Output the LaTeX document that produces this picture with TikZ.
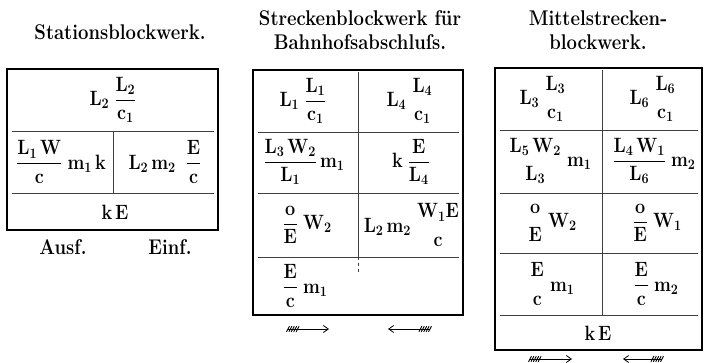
\RequirePackage{fix-cm}
\documentclass[tikz,border=0pt]{standalone}
\usepackage{amsmath}
\usepackage{tikz}
\usetikzlibrary{arrows.meta}

\newcommand{\nofr}[2]{\genfrac{}{}{0pt}{0}{#1}{#2}}

\tikzset{
	frame/.style = {line width = 1.8pt},
	rule/.style = {line width = 0.6pt, black!75},
	cell/.style = {inner sep = 0pt, yscale = 1.15, font = \fontsize{18}{21}\selectfont},
	heading/.style = {inner sep = 0pt, yscale = 1.15, align = center, font = \fontsize{18.5}{21}\selectfont\bfseries},
	shaft/.style = {line width = 0.8pt, -{Straight Barb[length = 5pt, width = 7pt]}},
	feather/.style = {line width = 0.9pt}
}

\begin{document}
\begin{tikzpicture}[x = 1pt, y = -1pt]
					\useasboundingbox (0,0) rectangle (707,363);

					\begin{scope}
						\node [heading] (stTitle) at (120,32) {Stationsblockwerk.};
						\draw [frame] (7,69) rectangle (218,230);
						\draw [rule] (12,131) -- (214,131);
						\draw [rule] (12,193) -- (214,193);
						\draw [rule] (113,131) -- (113,193);
						\node [cell] (stA) at (113,100) {$\mathbf{L_2\;\dfrac{L_2}{c_1}}$};
						\node [cell] (stB) at (61,162) {$\mathbf{\dfrac{L_1\,W}{c}\;m_1\,k}$};
						\node [cell] (stC) at (165,162) {$\mathbf{L_2\,m_2\;\;\dfrac{E}{c}}$};
						\node [cell] (stD) at (115,212) {$\mathbf{k\,E}$};
						\node [heading] (stAus) at (63,247) {Ausf.};
						\node [heading] (stEin) at (170,247) {Einf.};
					\end{scope}

					\begin{scope}
						\node [heading] (bhTitle) at (360,30) {Streckenblockwerk für\\Bahnhofsabschluſs.};
						\draw [frame] (253,70) rectangle (463,315);
						\draw [rule] (258,132) -- (459,132);
						\draw [rule] (258,193) -- (459,193);
						\draw [rule] (258,257) -- (459,257);
						\draw [rule] (358,72) -- (358,257);
						\draw [rule, dashed] (358,257) -- (358,273);
						\node [cell] (bhA) at (303,101) {$\mathbf{L_1\;\dfrac{L_1}{c_1}}$};
						\node [cell] (bhB) at (410,101) {$\mathbf{L_4\;\nofr{L_4}{c_1}}$};
						\node [cell] (bhC) at (304,162) {$\mathbf{\dfrac{L_3\,W_2}{L_1}\,m_1}$};
						\node [cell] (bhD) at (411,162) {$\mathbf{k\;\dfrac{E}{L_4}}$};
						\node [cell] (bhE) at (307,225) {$\mathbf{\dfrac{o}{E}\;W_2}$};
						\node [cell] (bhF) at (412,225) {$\mathbf{L_2\,m_2\;\nofr{W_1E}{c}}$};
						\node [cell] (bhG) at (305,286) {$\mathbf{\dfrac{E}{c}\;m_1}$};

						\coordinate (bhLa) at (288,329);
						\coordinate (bhLb) at (329,329);
						\coordinate (bhRa) at (430,329);
						\coordinate (bhRb) at (388,329);
						\draw [shaft] (bhLa) -- (bhLb);
						\draw [shaft] (bhRa) -- (bhRb);
						\foreach \i in {0,...,4} {
							\draw [feather] ([xshift = \i*2.4pt - 1.5pt, yshift = -2.8pt] bhLa) -- ++(3,-5.6);
							\draw [feather] ([xshift = -\i*2.4pt - 1.5pt, yshift = -2.8pt] bhRa) -- ++(3,-5.6);
						}
					\end{scope}

					\begin{scope}
						\node [heading] (mtTitle) at (598,30) {Mittelstrecken-\\blockwerk.};
						\draw [frame] (495,68) rectangle (702,350);
						\draw [rule] (500,130) -- (698,130);
						\draw [rule] (500,193) -- (698,193);
						\draw [rule] (500,253) -- (698,253);
						\draw [rule] (500,315) -- (698,315);
						\draw [rule] (602,70) -- (602,315);
						\node [cell] (mtA) at (543,99) {$\mathbf{L_3\;\nofr{L_3}{c_1}}$};
						\node [cell] (mtB) at (653,99) {$\mathbf{L_6\;\nofr{L_6}{c_1}}$};
						\node [cell] (mtC) at (550,161) {$\mathbf{\nofr{L_5\,W_2}{L_3}\;m_1}$};
						\node [cell] (mtD) at (654,161) {$\mathbf{\dfrac{L_4\,W_1}{L_6}\;m_2}$};
						\node [cell] (mtE) at (552,223) {$\mathbf{\nofr{o}{E}\;W_2}$};
						\node [cell] (mtF) at (657,223) {$\mathbf{\dfrac{o}{E}\;W_1}$};
						\node [cell] (mtG) at (552,284) {$\mathbf{\nofr{E}{c}\;m_1}$};
						\node [cell] (mtH) at (656,284) {$\mathbf{\dfrac{E}{c}\;m_2}$};
						\node [cell] (mtI) at (598,333) {$\mathbf{k\,E}$};

						\coordinate (mtLa) at (530,359);
						\coordinate (mtLb) at (572,359);
						\coordinate (mtRa) at (662,359);
						\coordinate (mtRb) at (623,359);
						\draw [shaft] (mtLa) -- (mtLb);
						\draw [shaft] (mtRa) -- (mtRb);
						\foreach \i in {0,...,4} {
							\draw [feather] ([xshift = \i*2.4pt - 1.5pt, yshift = -2.8pt] mtLa) -- ++(3,-5.6);
							\draw [feather] ([xshift = -\i*2.4pt - 1.5pt, yshift = -2.8pt] mtRa) -- ++(3,-5.6);
						}
					\end{scope}
				\end{tikzpicture}
\end{document}
